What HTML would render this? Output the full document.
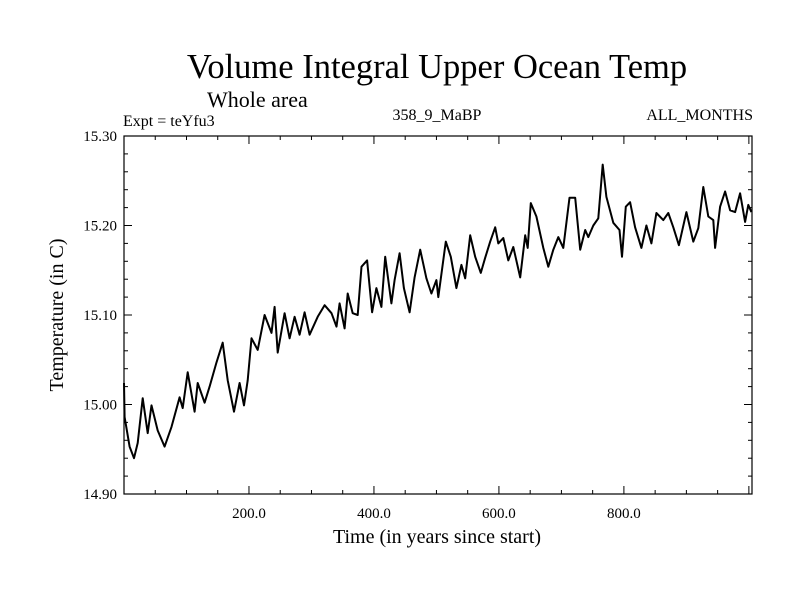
<!DOCTYPE html>
<html><head><meta charset="utf-8"><style>
body{margin:0;background:#fff}
svg text{font-family:"Liberation Serif",serif;fill:#000}
</style></head><body>
<svg id="c" width="800" height="600" xmlns="http://www.w3.org/2000/svg">
<rect width="800" height="600" fill="#fff"/>
<text x="437" y="78" font-size="34.5" text-anchor="middle">Volume Integral Upper Ocean Temp</text>
<text x="207" y="107" font-size="22">Whole area</text>
<text x="123" y="126" font-size="16">Expt = teYfu3</text>
<text x="437" y="120" font-size="16" text-anchor="middle">358_9_MaBP</text>
<text x="753" y="120" font-size="16" text-anchor="end">ALL_MONTHS</text>
<text x="437" y="543" font-size="20" text-anchor="middle">Time (in years since start)</text>
<text transform="translate(63,315) rotate(-90)" font-size="20" text-anchor="middle">Temperature (in C)</text>
<g id="axes"></g>
<path id="line" fill="none" stroke="#000" stroke-width="2" stroke-linejoin="round"/>
<rect x="124" y="136" width="628" height="358" fill="none" stroke="#000" stroke-width="1.2"/>
</svg>
<script>
const years=[0,1,9,16,22,30,38,44,54,65,76,89,94,102,113,118,129,137,148,158,166,176,185,192,198,204,214,225,236,241,246,257,265,273,281,289,297,310,321,332,340,345,353,358,366,374,380,389,397,404,412,418,428,433,441,448,457,465,474,484,492,500,503,515,523,532,540,546,554,562,571,578,586,594,599,607,615,623,634,642,646,651,660,671,679,687,695,703,713,722,730,738,743,751,759,766,772,783,793,797,803,810,818,828,836,844,852,863,871,879,888,900,911,919,927,935,943,946,954,962,970,978,986,994,999,1004];
const temps=[15.024,14.986,14.953,14.940,14.957,15.007,14.968,14.999,14.971,14.953,14.975,15.008,14.996,15.036,14.992,15.024,15.002,15.020,15.047,15.069,15.027,14.992,15.024,14.999,15.027,15.074,15.061,15.100,15.080,15.109,15.058,15.102,15.074,15.098,15.078,15.103,15.078,15.098,15.111,15.102,15.087,15.113,15.085,15.124,15.102,15.100,15.154,15.161,15.103,15.130,15.109,15.165,15.113,15.139,15.169,15.130,15.103,15.142,15.173,15.141,15.124,15.139,15.120,15.182,15.165,15.130,15.156,15.141,15.189,15.165,15.147,15.164,15.182,15.198,15.180,15.186,15.161,15.176,15.142,15.189,15.175,15.225,15.210,15.175,15.154,15.173,15.187,15.175,15.231,15.231,15.173,15.195,15.187,15.200,15.208,15.268,15.232,15.203,15.195,15.165,15.221,15.226,15.198,15.175,15.200,15.180,15.214,15.206,15.214,15.198,15.178,15.215,15.182,15.197,15.243,15.210,15.206,15.175,15.221,15.238,15.217,15.215,15.236,15.204,15.223,15.215];
const yTicks=[14.90,15.00,15.10,15.20,15.30];
const yTickLabels=["14.90","15.00","15.10","15.20","15.30"];
const xTicks=[200,400,600,800];
const xTickLabels=["200.0","400.0","600.0","800.0"];
const L=124,R=752,T=136,B=494,X0=0,X1=1005,Y0=14.90,Y1=15.30;
const sx=v=>L+(v-X0)/(X1-X0)*(R-L);
const sy=v=>B-(v-Y0)/(Y1-Y0)*(B-T);
const NS="http://www.w3.org/2000/svg";
const g=document.getElementById('axes');
function ln(x1,y1,x2,y2,name){const e=document.createElementNS(NS,'line');
e.setAttribute('x1',x1);e.setAttribute('y1',y1);e.setAttribute('x2',x2);e.setAttribute('y2',y2);
e.setAttribute('stroke','#000');e.setAttribute('stroke-width','1');


g.appendChild(e);}
function tx(x,y,s,anchor,name){const e=document.createElementNS(NS,'text');
e.setAttribute('x',x);e.setAttribute('y',y);e.setAttribute('font-size','15');e.setAttribute('text-anchor',anchor);e.textContent=s;


g.appendChild(e);}
for(let v=14.92;v<15.30;v+=0.02){const y=sy(v);const major=Math.abs((v*10)-Math.round(v*10))<0.01;const len=major?8:4;
ln(L,y,L+len,y,'y-tick');ln(R,y,R-len,y,'y-tick-right');}
yTicks.forEach((v,i)=>tx(L-7,sy(v)+5,yTickLabels[i],'end','y-tick-label'));
for(let v=50;v<X1;v+=50){const x=sx(v);const len=(v%200===0)?8:4;ln(x,B,x,B-len,'x-tick');ln(x,T,x,T+len,'x-tick-top');}
xTicks.forEach((v,i)=>tx(sx(v),B+24,xTickLabels[i],'middle','x-tick-label'));
let d='';years.forEach((y,i)=>{d+=(i?'L':'M')+sx(y).toFixed(1)+','+sy(temps[i]).toFixed(1);});
document.getElementById('line').setAttribute('d',d);
</script>
</body></html>
